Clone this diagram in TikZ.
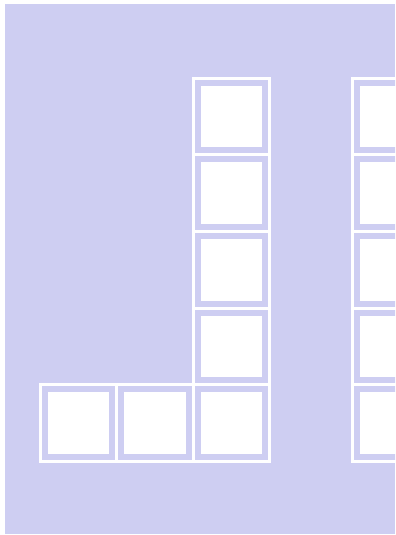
\documentclass[tikz,border=0pt]{standalone}
\usepackage{tikz}
\definecolor{lav}{RGB}{206,206,242}

\begin{document}
\begin{tikzpicture}[
  x=76.5pt, y=76.5pt,
  cell/.style={rectangle, draw=white, line width=3pt, double=lav, double distance=6pt, fill=white, minimum size=67.5pt, inner sep=0pt},
  bg/.style={fill=lav}
]
\useasboundingbox (-0.523,-0.967) rectangle (4.641,6.026);
\clip (-0.523,-0.967) rectangle (4.641,6.026);
\fill[bg] (-0.458,-0.954) rectangle (4.641,5.974);
% the L
\node[cell] (l1) at (0.5,0.5) {};
\node[cell] (l2) at (1.5,0.5) {};
\node[cell] (l3) at (2.5,0.5) {};
\node[cell] (l4) at (2.5,1.5) {};
\node[cell] (l5) at (2.5,2.5) {};
\node[cell] (l6) at (2.5,3.5) {};
\node[cell] (l7) at (2.5,4.5) {};
% column on the right edge
\node[cell] (m1) at (4.59,0.5) {};
\node[cell] (m2) at (4.59,1.5) {};
\node[cell] (m3) at (4.59,2.5) {};
\node[cell] (m4) at (4.59,3.5) {};
\node[cell] (m5) at (4.59,4.5) {};
\end{tikzpicture}
\end{document}
